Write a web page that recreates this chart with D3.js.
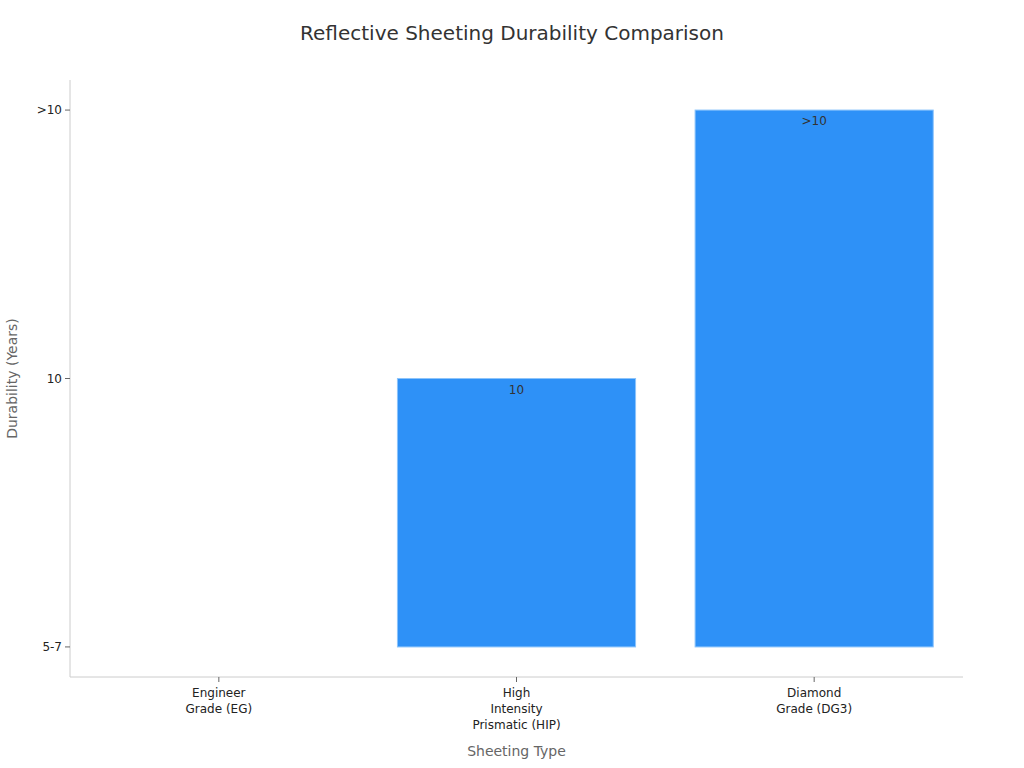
<!DOCTYPE html>
<html><head><meta charset="utf-8">
<script src="https://cdn.jsdelivr.net/npm/d3@7"></script>
<style>body{margin:0;background:#fff;font-family:"DejaVu Sans",sans-serif;}</style>
</head><body>
<svg id="c" width="1024" height="768"></svg>
<script>
const categories = [["Engineer","Grade (EG)"],["High","Intensity","Prismatic (HIP)"],["Diamond","Grade (DG3)"]];
const categoryKeys = ["EG","HIP","DG3"];
const yLevels = ["5-7","10",">10"];
const values = ["5-7","10",">10"];
const labels = ["","10",">10"];

const svg = d3.select("#c");
const L=70,R=963,T=80,B=677;
const x = d3.scaleBand().domain(categoryKeys).range([L,R]).paddingInner(0.2).paddingOuter(0.1);
const y = d3.scalePoint().domain(yLevels).range([B,T]).padding(0.112);

svg.append("text").attr("x",512).attr("y",40).attr("text-anchor","middle")
  .attr("font-size",20).attr("fill","#333").text("Reflective Sheeting Durability Comparison");

svg.selectAll("rect.bar").data(categoryKeys).join("rect")
  .attr("x",d=>x(d)).attr("width",x.bandwidth())
  .attr("y",(d,i)=>y(values[i])).attr("height",(d,i)=>y("5-7")-y(values[i]))
  .attr("fill","#2e91f7").attr("stroke","#8cc4fb").attr("stroke-width",1);

svg.selectAll("text.lab").data(categoryKeys).join("text")
  .attr("x",d=>x(d)+x.bandwidth()/2).attr("y",(d,i)=>y(values[i])+15)
  .attr("text-anchor","middle").attr("font-size",12).attr("fill","#333").text((d,i)=>labels[i]);

// axes lines
svg.append("line").attr("x1",L).attr("x2",L).attr("y1",T).attr("y2",B).attr("stroke","#ccc");
svg.append("line").attr("x1",L).attr("x2",R).attr("y1",B).attr("y2",B).attr("stroke","#ccc");

yLevels.forEach(v=>{
  svg.append("line").attr("x1",L-5).attr("x2",L).attr("y1",y(v)).attr("y2",y(v)).attr("stroke","#666");
  svg.append("text").attr("x",L-8).attr("y",y(v)+4).attr("text-anchor","end").attr("font-size",12).attr("fill","#222").text(v);
});
categoryKeys.forEach((k,i)=>{
  const cx=x(k)+x.bandwidth()/2;
  svg.append("line").attr("x1",cx).attr("x2",cx).attr("y1",B).attr("y2",B+5).attr("stroke","#666");
  const t=svg.append("text").attr("x",cx).attr("y",697).attr("text-anchor","middle").attr("font-size",12).attr("fill","#222");
  categories[i].forEach((s,j)=>t.append("tspan").attr("x",cx).attr("dy",j?16:0).text(s));
});
svg.append("text").attr("x",(L+R)/2).attr("y",756).attr("text-anchor","middle").attr("font-size",14).attr("fill","#666").text("Sheeting Type");
svg.append("text").attr("transform",`translate(17,${(T+B)/2}) rotate(-90)`).attr("text-anchor","middle").attr("font-size",14).attr("fill","#666").text("Durability (Years)");
</script>
</body></html>
